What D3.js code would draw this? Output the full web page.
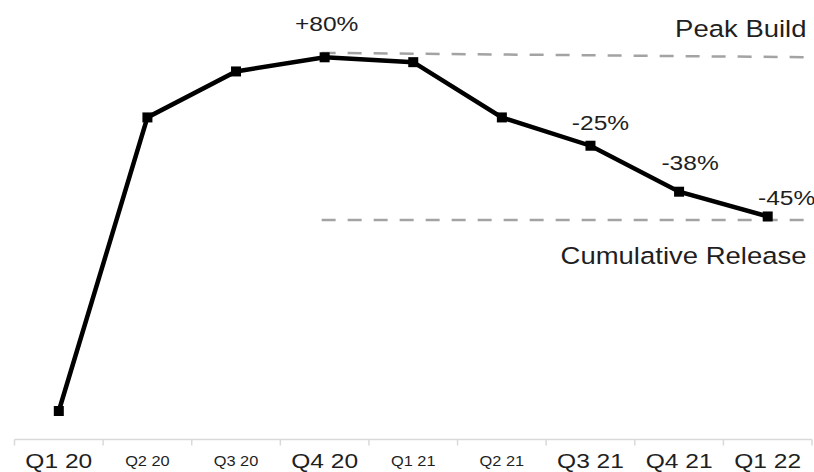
<!DOCTYPE html>
<html>
<head>
<meta charset="utf-8">
<script src="https://cdn.jsdelivr.net/npm/d3@7"></script>
<style>
  html, body { margin: 0; padding: 0; background: #fff; }
  svg { display: block; }
  text { font-family: "Liberation Sans", Arial, Helvetica, sans-serif; fill: #1f1f1f; }
</style>
</head>
<body>
<svg id="chart" width="814" height="472"></svg>
<script>
// Quarterly index (Q1 20 = 100)
const quarters = ["Q1 20", "Q2 20", "Q3 20", "Q4 20", "Q1 21", "Q2 21", "Q3 21", "Q4 21", "Q1 22"];
const values = [100, 166.4, 176.8, 180, 178.9, 166.4, 160, 149.6, 144];
// Quarters whose axis label is set in the large size
const majorQuarters = ["Q1 20", "Q4 20", "Q3 21", "Q4 21", "Q1 22"];

// Percentage call-outs: quarter and text
const calloutQuarters = ["Q4 20", "Q3 21", "Q4 21", "Q1 22"];
const calloutTexts = ["+80%", "-25%", "-38%", "-45%"];

// Dashed reference levels (start value, end value)
const peakLevel = [181, 180];
const releaseLevel = [143.2, 143.2];
const refLabels = ["Peak Build", "Cumulative Release"];

const W = 814, H = 472;
const svg = d3.select("#chart");

const x = d3.scaleBand().domain(quarters).range([14.5, 812]).padding(0);
const y = d3.scaleLinear().domain([100, 180]).range([411, 57.3]);
const cx = q => x(q) + x.bandwidth() / 2;

const SX = 1.17; // horizontal text stretch
function label(g, px, py, txt, size, anchor) {
  return g.append("g")
    .attr("transform", `translate(${px},${py}) scale(${SX},1)`)
    .append("text")
    .attr("text-anchor", anchor)
    .style("font-size", size + "px")
    .text(txt);
}

// X axis: category boundaries as ticks
const axisY = 439.5;
const axisG = svg.append("g").attr("transform", `translate(0,${axisY})`);
axisG.append("line")
  .attr("x1", x.range()[0]).attr("x2", x.range()[1])
  .attr("y1", 0).attr("y2", 0)
  .attr("stroke", "#d9d9d9").attr("stroke-width", 1.5);
const bounds = quarters.map(q => x(q)).concat([x.range()[1]]);
axisG.selectAll("line.tick").data(bounds).join("line")
  .attr("class", "tick")
  .attr("x1", d => d).attr("x2", d => d)
  .attr("y1", 0).attr("y2", 6)
  .attr("stroke", "#d9d9d9").attr("stroke-width", 1.5);

quarters.forEach(q => {
  const major = majorQuarters.includes(q);
  label(svg, cx(q), major ? 467.5 : 465.5, q, major ? 21 : 14, "middle");
});

// Dashed reference lines
const refStartX = cx("Q4 20") - 3;
[peakLevel, releaseLevel].forEach(lvl => {
  svg.append("line")
    .attr("x1", refStartX).attr("x2", W)
    .attr("y1", y(lvl[0])).attr("y2", y(lvl[1]))
    .attr("stroke", "#a3a3a3").attr("stroke-width", 2.5)
    .attr("stroke-dasharray", "14,12");
});

// Main line
const line = d3.line().x((d, i) => cx(quarters[i])).y(d => y(d));
svg.append("path")
  .datum(values)
  .attr("d", line)
  .attr("fill", "none")
  .attr("stroke", "#000")
  .attr("stroke-width", 4.5)
  .attr("stroke-linejoin", "miter");

// Square markers
const ms = 10;
svg.selectAll("rect.marker").data(values).join("rect")
  .attr("class", "marker")
  .attr("x", (d, i) => cx(quarters[i]) - ms / 2)
  .attr("y", d => y(d) - ms / 2)
  .attr("width", ms).attr("height", ms)
  .attr("fill", "#000");

// Percentage call-outs above points
const calloutOffsets = [[2, -26.6], [10, -16], [11, -21.7], [19, -11]];
calloutQuarters.forEach((q, i) => {
  const v = values[quarters.indexOf(q)];
  label(svg, cx(q) + calloutOffsets[i][0], y(v) + calloutOffsets[i][1], calloutTexts[i], 21, "middle");
});

// Reference line labels
label(svg, 806.5, 36.5, refLabels[0], 23.5, "end");
label(svg, 806.5, 264, refLabels[1], 23.5, "end");
</script>
</body>
</html>
